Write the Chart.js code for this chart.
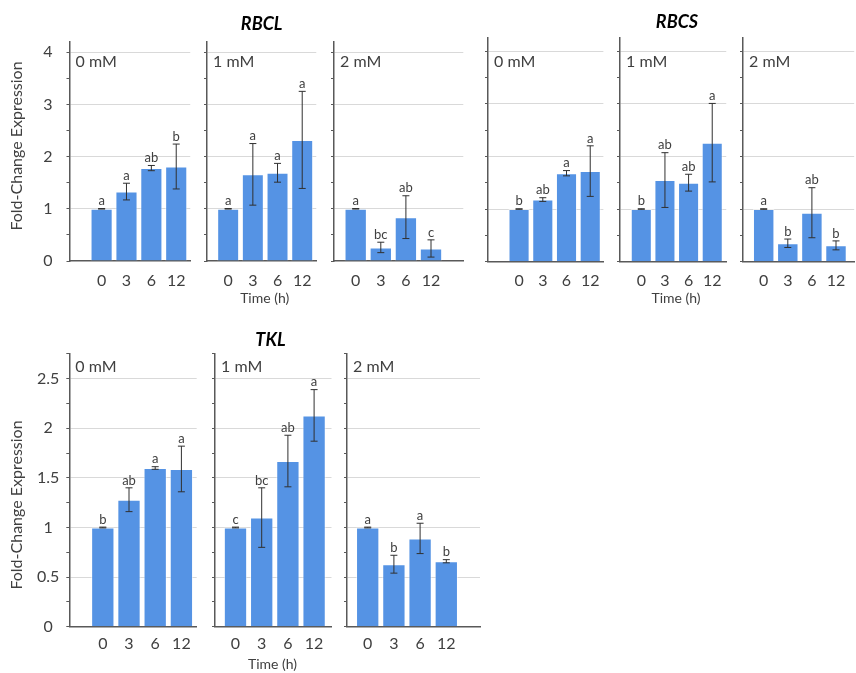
<!DOCTYPE html>
<html>
<head>
<meta charset="utf-8">
<script src="https://cdn.jsdelivr.net/npm/chart.js@4.4.1/dist/chart.umd.min.js"></script>
<style>
  html, body { margin: 0; padding: 0; background: #ffffff; }
  body { width: 856px; height: 673px; position: relative; overflow: hidden; }
  canvas { position: absolute; }
</style>
</head>
<body>
<script>
// ---- data ----
const timeLabels = ['0', '3', '6', '12'];
const doseLabels = ['0 mM', '1 mM', '2 mM'];
const geneNames = ['RBCL', 'RBCS', 'TKL'];
const yAxisTitle = 'Fold-Change Expression';
const xAxisTitle = 'Time (h)';

// mean fold change per dose (rows) and time point (columns)
const rbclMeans   = [[1.00, 1.33, 1.78, 1.81], [1.00, 1.66, 1.69, 2.32], [1.00, 0.26, 0.84, 0.24]];
const rbclErrors  = [[0.005, 0.16, 0.05, 0.43], [0.005, 0.59, 0.18, 0.93], [0.005, 0.10, 0.41, 0.165]];
const rbclLetters = [['a', 'a', 'ab', 'b'], ['a', 'a', 'a', 'a'], ['a', 'bc', 'ab', 'c']];

const rbcsMeans   = [[1.00, 1.18, 1.68, 1.72], [1.00, 1.55, 1.50, 2.26], [1.00, 0.35, 0.93, 0.31]];
const rbcsErrors  = [[0.005, 0.035, 0.05, 0.48], [0.005, 0.52, 0.16, 0.745], [0.005, 0.08, 0.475, 0.085]];
const rbcsLetters = [['b', 'ab', 'a', 'a'], ['b', 'ab', 'ab', 'a'], ['a', 'b', 'ab', 'b']];

const tklMeans    = [[1.00, 1.28, 1.60, 1.59], [1.00, 1.10, 1.67, 2.13], [1.00, 0.63, 0.89, 0.66]];
const tklErrors   = [[0.004, 0.12, 0.013, 0.23], [0.004, 0.30, 0.26, 0.26], [0.004, 0.09, 0.153, 0.016]];
const tklLetters  = [['b', 'ab', 'a', 'a'], ['c', 'bc', 'ab', 'a'], ['a', 'b', 'a', 'b']];

// ---- styling ----
const FONT = 'Lato, "Open Sans", sans-serif';
const TEXT = '#404040';
const AXIS = '#595959';
const GRID = '#d9d9d9';
const BAR = '#5593e4';

// ---- page layout of the three gene blocks ----
const blocks = [
  { gene: geneNames[0], means: rbclMeans, errors: rbclErrors, letters: rbclLetters,
    top: 0, height: 312, zeroY: 261, unit: 52.2, yMax: 4.2, major: 1, minor: 0.5,
    showY: true, yTickPad: 14, labelY: 62, titleXY: [262, 24], xTitleXY: [265, 298], yTitleXY: [17, 146], xTickPad: 10,
    panels: [ { ax: 69.5, gr: 191.7, c0: 102, p: 25.17 },
              { ax: 207.3, gr: 318.3, c0: 228.8, p: 25.07 },
              { ax: 334, gr: 463.3, c0: 355.7, p: 25.1 } ] },
  { gene: geneNames[1], means: rbcsMeans, errors: rbcsErrors, letters: rbcsLetters,
    top: 0, height: 312, zeroY: 261.7, unit: 52.67, yMax: 4.25, major: 1, minor: 0.5,
    showY: false, yTickPad: 14, labelY: 62, titleXY: [677, 22], xTitleXY: [676, 298], yTitleXY: null, xTickPad: 10,
    panels: [ { ax: 488.3, gr: 606, c0: 520, p: 24.2 },
              { ax: 620, gr: 728.3, c0: 641.7, p: 24.1 },
              { ax: 742.8, gr: 854, c0: 763.5, p: 24.1 } ] },
  { gene: geneNames[2], means: tklMeans, errors: tklErrors, letters: tklLetters,
    top: 320, height: 353, zeroY: 626.7, unit: 99.2, yMax: 2.75, major: 0.5, minor: 0.25,
    showY: true, yTickPad: 7, labelY: 367, titleXY: [270, 340], xTitleXY: [272, 664], yTitleXY: [17, 505], xTickPad: 8,
    panels: [ { ax: 69.3, gr: 196.7, c0: 102.8, p: 26.2 },
              { ax: 214.5, gr: 331, c0: 235, p: 26.2 },
              { ax: 347, gr: 480, c0: 367.7, p: 26.2 } ] }
];

// error bars, significance letters and panel texts
const panelDecor = {
  id: 'panelDecor',
  afterDatasetsDraw(chart, args, o) {
    const ctx = chart.ctx;
    const ys = chart.scales.y;
    const meta = chart.getDatasetMeta(0);
    ctx.save();
    meta.data.forEach((bar, i) => {
      const m = o.means[i], e = o.errors[i];
      const yt = ys.getPixelForValue(m + e);
      const yb = ys.getPixelForValue(m - e);
      ctx.strokeStyle = '#303030';
      ctx.lineWidth = 1;
      ctx.beginPath();
      ctx.moveTo(bar.x, yt); ctx.lineTo(bar.x, yb);
      ctx.moveTo(bar.x - 3.5, yt); ctx.lineTo(bar.x + 3.5, yt);
      ctx.moveTo(bar.x - 3.5, yb); ctx.lineTo(bar.x + 3.5, yb);
      ctx.stroke();
      ctx.fillStyle = TEXT;
      ctx.font = '13px ' + FONT;
      ctx.textAlign = 'center';
      ctx.textBaseline = 'bottom';
      ctx.fillText(o.letters[i], bar.x, yt - 1);
    });
    const ca = chart.chartArea;
    ctx.fillStyle = TEXT;
    ctx.font = '16px ' + FONT;
    ctx.textAlign = 'left';
    ctx.textBaseline = 'middle';
    ctx.fillText(o.label, ca.left + 6, o.labelY - o.offY);
    if (o.title) {
      ctx.font = 'italic bold 18px ' + FONT;
      ctx.textAlign = 'center';
      ctx.fillStyle = '#000000';
      ctx.fillText(o.title, o.titleXY[0] - o.offX, o.titleXY[1] - o.offY);
    }
    if (o.xTitle) {
      ctx.font = '14px ' + FONT;
      ctx.textAlign = 'center';
      ctx.fillStyle = TEXT;
      ctx.fillText(o.xTitle, o.xTitleXY[0] - o.offX, o.xTitleXY[1] - o.offY);
    }
    if (o.yTitle) {
      ctx.save();
      ctx.translate(o.yTitleXY[0] - o.offX, o.yTitleXY[1] - o.offY);
      ctx.rotate(-Math.PI / 2);
      ctx.font = '16px ' + FONT;
      ctx.textAlign = 'center';
      ctx.textBaseline = 'middle';
      ctx.fillStyle = TEXT;
      ctx.fillText(o.yTitle, 0, 0);
      ctx.restore();
    }
    ctx.restore();
  }
};

const near = (v, step) => Math.abs(v / step - Math.round(v / step)) < 1e-6;

blocks.forEach(b => {
  b.panels.forEach((pn, k) => {
    const withYLabels = b.showY && k === 0;
    const left = withYLabels ? 0 : pn.ax - 8;
    const right = Math.min(856, pn.gr + 4);
    const width = Math.round(right - left);
    const axisTop = b.zeroY - b.yMax * b.unit;

    const cv = document.createElement('canvas');
    cv.width = width; cv.height = b.height;
    cv.style.left = left + 'px'; cv.style.top = b.top + 'px';
    cv.style.width = width + 'px'; cv.style.height = b.height + 'px';
    document.body.appendChild(cv);

    const xMin = 1 - (pn.c0 - pn.ax) / pn.p;
    const xMax = 1 + (pn.gr - pn.c0) / pn.p;
    const means = b.means[k];

    new Chart(cv, {
      type: 'bar',
      data: {
        datasets: [{
          data: means.map((v, i) => ({ x: i + 1, y: v })),
          backgroundColor: BAR,
          borderColor: 'rgba(255,255,255,0.55)',
          borderWidth: 1,
          borderSkipped: 'bottom',
          barPercentage: 0.89,
          categoryPercentage: 1
        }]
      },
      options: {
        responsive: false,
        animation: false,
        events: [],
        layout: { padding: { left: 0, top: axisTop - b.top, right: width - (pn.gr - left), bottom: 0 } },
        plugins: {
          legend: { display: false },
          tooltip: { enabled: false },
          panelDecor: {
            means: means, errors: b.errors[k], letters: b.letters[k],
            label: doseLabels[k], labelY: b.labelY, offX: left, offY: b.top,
            title: k === 1 ? b.gene : null, titleXY: b.titleXY,
            xTitle: k === 1 ? xAxisTitle : null, xTitleXY: b.xTitleXY,
            yTitle: withYLabels ? yAxisTitle : null, yTitleXY: b.yTitleXY
          }
        },
        scales: {
          x: {
            type: 'linear',
            offset: false,
            min: xMin, max: xMax,
            grid: { display: false, drawTicks: false, offset: false },
            border: { color: AXIS, width: 1.5 },
            afterBuildTicks: s => { s.ticks = timeLabels.map((t, i) => ({ value: i + 1 })); },
            ticks: {
              autoSkip: false, maxRotation: 0,
              callback: v => timeLabels[Math.round(v) - 1],
              font: { family: FONT, size: 16 }, color: TEXT, padding: b.xTickPad
            },
            afterFit: s => { s.height = b.top + b.height - b.zeroY; }
          },
          y: {
            min: 0, max: b.yMax,
            ticks: {
              stepSize: b.minor, includeBounds: false,
              display: withYLabels,
              callback: v => near(v, b.major) ? String(v) : '',
              crossAlign: 'center', padding: b.yTickPad,
              font: { family: FONT, size: 16 }, color: TEXT
            },
            grid: {
              color: c => (c.tick && c.tick.value > 0 && near(c.tick.value, b.major)) ? GRID : 'rgba(0,0,0,0)',
              tickColor: AXIS, tickLength: 3, lineWidth: 1
            },
            border: { color: AXIS, width: 1.5 },
            afterFit: s => { s.width = pn.ax - left; }
          }
        }
      },
      plugins: [panelDecor]
    });
  });
});
</script>
</body>
</html>
